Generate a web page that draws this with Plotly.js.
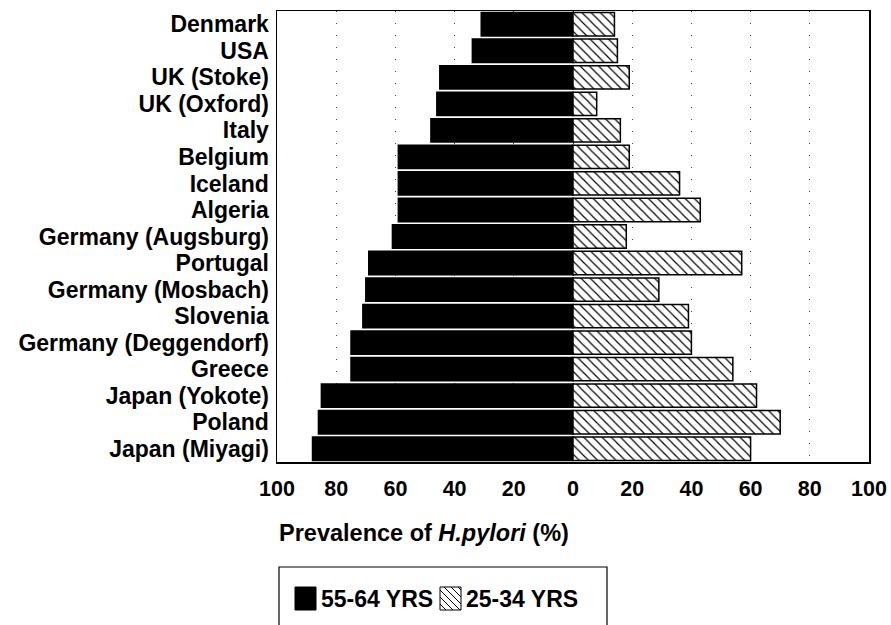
<!DOCTYPE html>
<html>
<head>
<meta charset="utf-8">
<script src="https://cdn.plot.ly/plotly-3.0.1.min.js"></script>
<style>
  html, body { margin: 0; padding: 0; background: #fff; }
  #chart { width: 891px; height: 625px; }
</style>
</head>
<body>
<div id="chart"></div>
<script>
// Countries, top to bottom
const countries = [
  'Denmark', 'USA', 'UK (Stoke)', 'UK (Oxford)', 'Italy', 'Belgium', 'Iceland',
  'Algeria', 'Germany (Augsburg)', 'Portugal', 'Germany (Mosbach)', 'Slovenia',
  'Germany (Deggendorf)', 'Greece', 'Japan (Yokote)', 'Poland', 'Japan (Miyagi)'
];

// Prevalence of H. pylori (%) by age group
const older = [31, 34, 45, 46, 48, 59, 59, 59, 61, 69, 70, 71, 75, 75, 85, 86, 88];   // 55-64 yrs
const younger = [14, 15, 19, 8, 16, 19, 36, 43, 18, 57, 29, 39, 40, 54, 62, 70, 60]; // 25-34 yrs

const tickVals = [-100, -80, -60, -40, -20, 0, 20, 40, 60, 80, 100];
const tickText = ['100', '80', '60', '40', '20', '0', '20', '40', '60', '80', '100'];
const legendLabels = ['55-64 YRS', '25-34 YRS'];

// Plot-area geometry in pixels
const W = 891, H = 625;
const M = { l: 277, r: 22, t: 11, b: 163 };
const PW = W - M.l - M.r, PH = H - M.t - M.b;
const fx = px => (px - M.l) / PW;
const fy = py => (H - M.b - py) / PH;

const FONT = 'Liberation Sans, Arial, Helvetica, sans-serif';
const boldFont = size => ({ family: FONT, size: size, color: '#000', weight: 'bold' });

const traces = [
  {
    type: 'bar', orientation: 'h', name: legendLabels[0],
    y: countries, x: older.map(v => -v),
    marker: { color: '#000', line: { color: '#000', width: 1.5 } },
    hoverinfo: 'skip'
  },
  {
    type: 'bar', orientation: 'h', name: legendLabels[1],
    y: countries, x: younger,
    marker: {
      color: '#fff',
      line: { color: '#000', width: 1.5 },
      pattern: { shape: '\\', fgcolor: '#000', bgcolor: '#fff', size: 6.5, solidity: 0.18 }
    },
    hoverinfo: 'skip'
  }
];

// Hand-drawn legend box with a solid and a hatched swatch
const shapes = [];
const rectPx = (x0, y0, x1, y1, fill, lw) => ({
  type: 'rect', xref: 'paper', yref: 'paper',
  x0: fx(x0), x1: fx(x1), y0: fy(y0), y1: fy(y1),
  fillcolor: fill, line: { color: '#000', width: lw }, layer: 'above'
});
shapes.push(rectPx(279, 567, 607, 660, 'rgba(0,0,0,0)', 1.2));
shapes.push(rectPx(295, 587, 316, 610, '#000', 1));
shapes.push(rectPx(440, 587, 461, 610, '#fff', 1));

// diagonal hatch lines inside the second swatch
(function () {
  const x0 = 440, x1 = 461, y0 = 587, y1 = 610;
  let d = '';
  for (let c = -24; c <= 24; c += 7) {
    // line x - x0 = (y - y0) + c, clipped to the swatch
    let ya = Math.max(y0, y0 - c), yb = Math.min(y1, y0 + (x1 - x0) - c);
    if (yb <= ya) continue;
    const xa = x0 + (ya - y0) + c, xb = x0 + (yb - y0) + c;
    d += 'M' + fx(xa) + ',' + fy(ya) + 'L' + fx(xb) + ',' + fy(yb);
  }
  shapes.push({ type: 'path', xref: 'paper', yref: 'paper', path: d,
                line: { color: '#000', width: 1 }, layer: 'above' });
})();

const annotations = [
  {
    text: 'Prevalence of <i>H.pylori</i> (%)', xref: 'paper', yref: 'paper',
    x: 0, y: fy(533), xanchor: 'left', yanchor: 'middle', showarrow: false,
    font: boldFont(23.5)
  },
  {
    text: legendLabels[0], xref: 'paper', yref: 'paper',
    x: fx(319), y: fy(599), xanchor: 'left', yanchor: 'middle', showarrow: false,
    font: boldFont(23)
  },
  {
    text: legendLabels[1], xref: 'paper', yref: 'paper',
    x: fx(464), y: fy(599), xanchor: 'left', yanchor: 'middle', showarrow: false,
    font: boldFont(23)
  }
];

const layout = {
  width: W, height: H,
  margin: M,
  paper_bgcolor: '#fff', plot_bgcolor: '#fff',
  barmode: 'relative', bargap: 0.12,
  showlegend: false,
  font: { family: FONT, color: '#000' },
  xaxis: {
    range: [-100, 100], tickmode: 'array', tickvals: tickVals, ticktext: tickText,
    tickfont: boldFont(21.5), ticks: '', ticklabelstandoff: 7,
    showgrid: true, gridcolor: '#444', gridwidth: 1, griddash: '1px,11px',
    zeroline: false, showline: true, mirror: true, linecolor: '#000', linewidth: 1.5,
    fixedrange: true
  },
  yaxis: {
    type: 'category', categoryorder: 'array', categoryarray: countries,
    tickmode: 'array', tickvals: countries, ticktext: countries,
    range: [countries.length - 0.5, -0.5],
    tickfont: boldFont(23), ticks: '', ticklabelstandoff: 2,
    showgrid: false, zeroline: false,
    showline: true, mirror: true, linecolor: '#000', linewidth: 1.5,
    fixedrange: true
  },
  shapes: shapes,
  annotations: annotations
};

Plotly.newPlot('chart', traces, layout, { staticPlot: true, displayModeBar: false });
</script>
</body>
</html>
